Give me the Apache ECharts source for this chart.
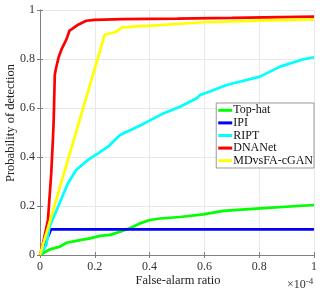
<!DOCTYPE html>
<html><head><meta charset="utf-8">
<script src="https://cdn.jsdelivr.net/npm/echarts@6/dist/echarts.min.js"></script>
<style>html,body{margin:0;padding:0;background:#fff}#c{width:327px;height:292px}</style>
</head><body><div id="c"></div>
<script>
const xTicks = [0, 0.2, 0.4, 0.6, 0.8, 1];
const yTicks = [0, 0.2, 0.4, 0.6, 0.8, 1];
const seriesNames = ['Top-hat', 'IPI', 'RIPT', 'DNANet', 'MDvsFA-cGAN'];
const seriesColors = ['#00ff00', '#0000ff', '#00ffff', '#ff0000', '#ffff00'];

const topHatX = [0,0.036,0.073,0.097,0.146,0.182,0.219,0.255,0.292,0.328,0.365,0.401,0.438,0.511,0.596,0.669,0.803,1];
const topHatY = [0,0.023,0.034,0.05,0.061,0.068,0.078,0.082,0.095,0.109,0.129,0.143,0.149,0.155,0.166,0.18,0.19,0.204];

const ipiX = [0,0.035,0.04,1];
const ipiY = [0,0.09,0.105,0.105];

const riptX = [0,0.023,0.035,0.066,0.102,0.132,0.175,0.212,0.248,0.292,0.377,0.45,0.511,0.572,0.584,0.62,0.681,0.803,0.876,0.961,1];
const riptY = [0,0.041,0.116,0.197,0.293,0.347,0.388,0.415,0.442,0.49,0.535,0.578,0.605,0.64,0.653,0.667,0.694,0.728,0.769,0.799,0.807];

const dnaX = [0,0.011,0.029,0.041,0.047,0.05,0.054,0.058,0.068,0.078,0.096,0.108,0.12,0.139,0.169,0.2,0.3,0.5,0.7,1];
const dnaY = [0,0.048,0.143,0.333,0.47,0.55,0.736,0.76,0.807,0.838,0.879,0.916,0.925,0.94,0.956,0.96,0.963,0.965,0.968,0.973];

const mdX = [0,0.236,0.274,0.298,0.34,0.438,0.596,0.8,1];
const mdY = [0,0.899,0.909,0.928,0.932,0.938,0.95,0.957,0.962];

const xs = [topHatX, ipiX, riptX, dnaX, mdX];
const ys = [topHatY, ipiY, riptY, dnaY, mdY];

const font = 'Liberation Serif';
const axisColor = '#808080';
const chart = echarts.init(document.getElementById('c'), null, {renderer:'canvas'});

const baseAxis = {
  type:'value', min:0, max:1, interval:0.2,
  axisLine:{show:true, lineStyle:{color:axisColor, width:1}},
  axisTick:{show:true, inside:true, length:3, lineStyle:{color:axisColor}},
  splitLine:{show:false},
};

chart.setOption({
  animation:false,
  textStyle:{fontFamily:font},
  grid:{left:40, right:13, top:10, bottom:37, show:false, containLabel:false, outerBoundsMode:'none'},
  legend:{
    orient:'vertical', right:13, top:103,
    data:seriesNames,
    icon:'rect', itemWidth:14, itemHeight:3, itemGap:0,
    backgroundColor:'#fff', borderColor:'#999', borderWidth:1, borderRadius:0,
    padding:[1,1,1,2],
    textStyle:{fontFamily:font, fontSize:12, color:'#111', lineHeight:12.6, padding:[0,0,0,-4]}
  },
  xAxis:[
    Object.assign({}, baseAxis, {
      position:'bottom',
      axisLabel:{fontFamily:font, fontSize:12, color:'#333', margin:6, formatter:v=>String(+v.toFixed(1))},
      splitLine:{show:true, lineStyle:{color:'#e8e8e8', width:1}}
    }),
    Object.assign({}, baseAxis, {position:'top', axisLabel:{show:false}})
  ],
  yAxis:[
    Object.assign({}, baseAxis, {
      position:'left',
      axisLabel:{fontFamily:font, fontSize:12, color:'#333', margin:5, formatter:v=>String(+v.toFixed(1))},
      splitLine:{show:true, lineStyle:{color:'#e8e8e8', width:1}}
    }),
    Object.assign({}, baseAxis, {position:'right', axisLabel:{show:false}})
  ],
  graphic:[
    {
      type:'text', x:11, y:123, rotation:Math.PI/2,
      style:{text:'Probability of detection', font:'12.5px "Liberation Serif"', fill:'#222', align:'center', verticalAlign:'middle'}
    },
    {
      type:'text', x:178, y:281,
      style:{text:'False-alarm ratio', font:'12.5px "Liberation Serif"', fill:'#222', align:'center', verticalAlign:'middle'}
    },
    {
      type:'text', left:287, top:277,
      style:{
        text:'×10{sup|-4}',
        rich:{sup:{fontSize:9, verticalAlign:'top', padding:[0,0,6,0], fontFamily:font, fill:'#333'}},
        font:'12px "Liberation Serif"', fill:'#333'
      }
    }
  ],
  series: seriesNames.map((n,i)=>({
    name:n, type:'line', xAxisIndex:0, yAxisIndex:0,
    data: xs[i].map((x,j)=>[x, ys[i][j]]),
    showSymbol:false, symbol:'none',
    lineStyle:{color:seriesColors[i], width:2.7},
    itemStyle:{color:seriesColors[i]},
    z: 2+i
  }))
});
</script></body></html>
